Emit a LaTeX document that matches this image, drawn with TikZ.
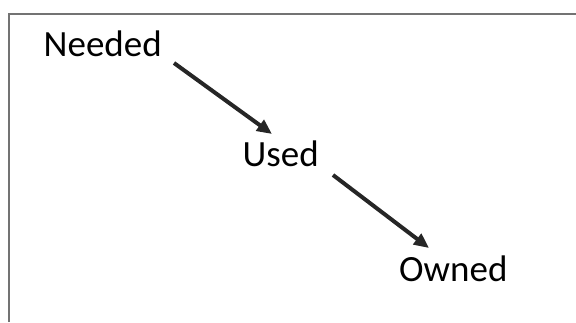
\documentclass[tikz,border=0pt]{standalone}
\usepackage{fontspec}
\setmainfont{Carlito}
\usetikzlibrary{arrows.meta}
\begin{document}
\begin{tikzpicture}[x=1pt,y=-1pt,
  lbl/.style={anchor=base west,inner sep=0pt,font=\fontsize{37}{41}\selectfont,text=black},
  arr/.style={draw=black!85,line width=4pt,-{Triangle[length=15pt,width=13pt]}},
  frame/.style={draw=black!55,line width=2pt}]
\useasboundingbox (0,0) rectangle (576,322);
\draw[frame] (8.5,322) -- (8.5,13.5) -- (576,13.5);
\node[lbl] (needed) at (43.5,56.7) {Needed};
\node[lbl] (used) at (242.5,166.7) {Used};
\node[lbl] (owned) at (399,281.7) {Owned};
\coordinate (a1s) at (174,63);
\coordinate (a1e) at (272,134);
\coordinate (a2s) at (333,175);
\coordinate (a2e) at (429,248);
\draw[arr] (a1s) -- (a1e);
\draw[arr] (a2s) -- (a2e);
\end{tikzpicture}
\end{document}
